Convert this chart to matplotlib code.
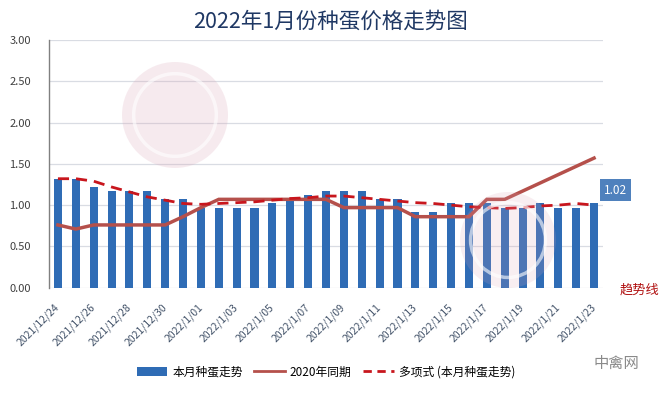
import matplotlib
matplotlib.use("Agg")
import matplotlib.pyplot as plt
from matplotlib.patches import Circle, Patch
from matplotlib.lines import Line2D

plt.rcParams['font.family'] = ['Noto Sans CJK SC', 'DejaVu Sans']

dates = ["2021/12/24", "2021/12/25", "2021/12/26", "2021/12/27", "2021/12/28", "2021/12/29",
         "2021/12/30", "2021/12/31", "2022/1/01", "2022/1/02", "2022/1/03", "2022/1/04",
         "2022/1/05", "2022/1/06", "2022/1/07", "2022/1/08", "2022/1/09", "2022/1/10",
         "2022/1/11", "2022/1/12", "2022/1/13", "2022/1/14", "2022/1/15", "2022/1/16",
         "2022/1/17", "2022/1/18", "2022/1/19", "2022/1/20", "2022/1/21", "2022/1/22",
         "2022/1/23"]
this_month = [1.32, 1.32, 1.22, 1.17, 1.17, 1.17, 1.07, 1.07, 0.97, 0.97, 0.97, 0.97,
              1.02, 1.07, 1.12, 1.17, 1.17, 1.17, 1.07, 1.07, 0.92, 0.92, 1.02, 1.02,
              1.02, 0.97, 0.97, 1.02, 0.97, 0.97, 1.02]
same_2020 = [0.76, 0.71, 0.76, 0.76, 0.76, 0.76, 0.76, 0.86, 0.97, 1.07, 1.07, 1.07,
             1.07, 1.07, 1.07, 1.07, 0.97, 0.97, 0.97, 0.97, 0.86, 0.86, 0.86, 0.86,
             1.07, 1.07, 1.17, 1.27, 1.37, 1.47, 1.57]
trend = [1.32, 1.32, 1.29, 1.22, 1.16, 1.10, 1.06, 1.02, 1.01, 1.02, 1.03, 1.04,
         1.06, 1.08, 1.09, 1.11, 1.11, 1.09, 1.07, 1.05, 1.03, 1.02, 1.00, 0.98,
         0.97, 0.96, 0.97, 0.99, 1.00, 1.02, 1.00]
yticks = [0.0, 0.5, 1.0, 1.5, 2.0, 2.5, 3.0]
title = "2022年1月份种蛋价格走势图"
legend_labels = ["本月种蛋走势", "2020年同期", "多项式 (本月种蛋走势)"]

BAR = "#2F6CB5"
LINE = "#B5504B"
DASH = "#C8161D"

fig = plt.figure(figsize=(6.62, 3.93), dpi=100)
ax = fig.add_axes([49/662, 1-287.7/393, (603-49)/662, (287.7-40)/393])

x = list(range(len(dates)))
ax.bar(x, this_month, width=0.45, color=BAR, zorder=2)
ax.plot(x, same_2020, color=LINE, lw=2.5, zorder=3, solid_joinstyle='miter')
ax.plot(x, trend, color=DASH, lw=2, ls=(0, (4, 2.5)), zorder=4)

ax.set_xlim(-0.5, len(dates) - 0.5)
ax.set_ylim(0, 3.0)
ax.set_yticks(yticks)
ax.set_yticklabels([f"{v:.2f}" for v in yticks], fontsize=8, color="#404040")
ax.yaxis.grid(True, color="#D9DCE3", lw=0.9, zorder=0)
ax.set_axisbelow(True)
ax.tick_params(axis='y', length=0, pad=13)
ax.set_xticks(x[::2])
ax.set_xticklabels(dates[::2], rotation=45, ha='right', va='center',
                   rotation_mode='anchor', fontsize=7.5, color="#44546A")
ax.tick_params(axis='x', length=0, pad=13)
for s in ['top', 'right', 'bottom']:
    ax.spines[s].set_visible(False)
ax.spines['left'].set_color("#808080")
ax.spines['left'].set_linewidth(1)

ax.annotate(f"{this_month[-1]:.2f}", xy=(x[-1], this_month[-1]), xytext=(7, 5),
            textcoords='offset points', fontsize=8.5, color='white',
            ha='left', va='bottom', annotation_clip=False,
            bbox=dict(boxstyle='square,pad=0.35', fc="#4F81BD", ec='none'))

fig.text(330/662, 1-22/393, title, ha='center', va='center', fontsize=15.5, color="#1F3864")
fig.text(640/662, 1-290/393, "趋势线", ha='center', va='center', fontsize=9.5, color="#B01010")
fig.text(616/662, 1-363/393, "中禽网", ha='center', va='center', fontsize=11, color="#8A8A8A")

# watermark rings
for cx, cy, r, a in [(175, 115, 53, 0.22), (508, 240, 48, 0.18)]:
    c1 = Circle((cx/100, (393-cy)/100), r/100, transform=fig.dpi_scale_trans,
                fc="#D9A3B5", ec='none', alpha=a, zorder=5)
    c2 = Circle((cx/100, (393-cy)/100), r*0.78/100, transform=fig.dpi_scale_trans,
                fc='none', ec='white', lw=2.5, alpha=0.6, zorder=6)
    fig.patches.extend([c1, c2])

handles = [Patch(fc=BAR, ec='none'),
           Line2D([], [], color=LINE, lw=2),
           Line2D([], [], color=DASH, lw=2, ls=(0, (3, 2)))]
fig.legend(handles, legend_labels, loc='center', bbox_to_anchor=(326/662, 1-372/393),
           ncol=3, frameon=False, fontsize=8.5, handlelength=2.6, columnspacing=1.0,
           handletextpad=0.4)

fig.savefig("out.png", dpi=100)
